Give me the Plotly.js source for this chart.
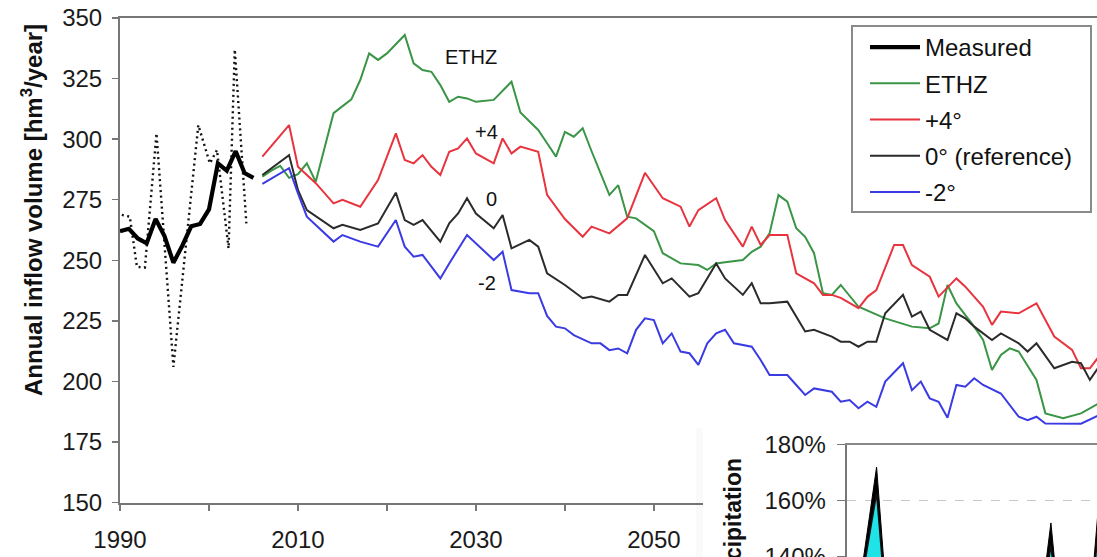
<!DOCTYPE html>
<html>
<head>
<meta charset="utf-8">
<script src="https://cdn.plot.ly/plotly-3.0.1.min.js"></script>
<style>
  html, body { margin: 0; padding: 0; background: #fff; overflow: hidden; }
  #chart { width: 1097px; height: 557px; }
</style>
</head>
<body>
<div id="chart"></div>
<script>
// ---- Measured inflow volume [hm3/year] ----
// single years (dotted line)
const measuredAnnualYears = [1990.2, 1991.1, 1991.9, 1992.8, 1994.1, 1996.0, 1998.8, 2000.1, 2000.9, 2002.2, 2002.9, 2004.2];
const measuredAnnual      = [268.7, 268, 247.3, 247, 302.4, 206, 305.8, 290, 295.5, 254.9, 337, 265.2];
// smoothed series (bold line)
const measuredYears = [1990, 1991, 1992, 1993, 1994, 1995, 1996, 1997, 1998, 1999, 2000, 2001, 2002, 2003, 2004, 2005];
const measured      = [262, 263, 259, 257, 267, 260, 249, 256, 264, 265, 271, 290, 287, 295, 286, 284];

// ---- Scenario projections ----
const ethzYears = [2006, 2007, 2008, 2009, 2010, 2011, 2012, 2014, 2016, 2017, 2018, 2019, 2020, 2022, 2023, 2024, 2025, 2026, 2027, 2028, 2029, 2030, 2032, 2033, 2034, 2035, 2037, 2038, 2039, 2040, 2041, 2042, 2043, 2045, 2046, 2047, 2048, 2050, 2051, 2053, 2055, 2056, 2057, 2058, 2060, 2061, 2062, 2063, 2064, 2065, 2066, 2067, 2068, 2069, 2070, 2071, 2073, 2076, 2078, 2079, 2081, 2082, 2083, 2084, 2086, 2087, 2088, 2089, 2090, 2091, 2093, 2094, 2096, 2098, 2100];
const ethz      = [284.5, 287, 289, 284, 285.5, 290, 282.4, 310.7, 316.4, 324.4, 335.4, 332.7, 335.4, 343, 331.3, 328.5, 327.8, 322.3, 315.4, 317.5, 316.8, 315.4, 316.2, 320, 323.7, 311, 303.8, 298.3, 292.8, 303, 301, 304.5, 295, 277, 281, 268, 267.3, 262, 252.9, 248.7, 248, 246, 248.7, 249.2, 250.1, 253.5, 255.6, 261.1, 276.9, 274.2, 263.2, 259.7, 252.9, 236.4, 235.7, 239.8, 230.8, 226, 223.9, 222.6, 221.9, 223.9, 239.8, 232.2, 222.6, 217.1, 204.7, 210.9, 213.6, 212.3, 200.6, 186.8, 184.8, 186.8, 190.9];

const plus4Years = [2006, 2009, 2010, 2012, 2014, 2015, 2017, 2019, 2021, 2022, 2023, 2024, 2025, 2026, 2027, 2028, 2029, 2030, 2032, 2033, 2034, 2035, 2037, 2038, 2040, 2042, 2043, 2045, 2047, 2049, 2051, 2053, 2054, 2055, 2057, 2058, 2060, 2061, 2062, 2063, 2065, 2066, 2068, 2069, 2070, 2071, 2073, 2074, 2075, 2077, 2078, 2079, 2081, 2082, 2084, 2085, 2087, 2088, 2089, 2091, 2093, 2095, 2097, 2098, 2099, 2100];
const plus4      = [292.8, 305.8, 288.6, 281.8, 273.5, 274.9, 272.1, 283.1, 302.4, 291.4, 290, 293.4, 288.6, 285.2, 294.8, 296.2, 300.3, 294.1, 290, 300.3, 294.1, 296.9, 294.8, 277, 267, 259.7, 263.9, 261.1, 267.3, 286.1, 275.6, 272.1, 263.9, 270.7, 275.6, 266.6, 255.6, 263.9, 256.3, 260.4, 260.4, 244.6, 240.5, 235.7, 235.7, 234.5, 230.2, 234.9, 237.7, 256.3, 256.3, 248, 243.2, 235, 242.5, 239.1, 230.8, 223.3, 228.8, 228.1, 232.2, 218.5, 213, 205.4, 205.4, 210.2];

const refYears = [2006, 2009, 2010, 2011, 2014, 2015, 2017, 2019, 2021, 2022, 2023, 2024, 2026, 2027, 2028, 2029, 2030, 2032, 2033, 2034, 2036, 2037, 2038, 2040, 2042, 2043, 2045, 2046, 2047, 2049, 2051, 2052, 2054, 2055, 2057, 2058, 2060, 2061, 2062, 2063, 2065, 2067, 2068, 2070, 2071, 2072, 2073, 2074, 2075, 2076, 2078, 2079, 2080, 2081, 2083, 2084, 2085, 2086, 2088, 2089, 2091, 2092, 2093, 2095, 2097, 2098, 2099, 2100];
const ref      = [285.2, 293.4, 279, 270.7, 263.2, 264.6, 262.5, 265.2, 277.9, 266.6, 264.6, 266.6, 257.7, 265.2, 269.3, 275.6, 269.3, 263.2, 268.7, 254.9, 258.4, 255.6, 244.6, 239.8, 234.3, 235, 232.9, 235.7, 235.7, 252.2, 240.5, 242.5, 235, 236.4, 248.7, 242.5, 235.7, 240.5, 232.2, 232.2, 232.9, 220.6, 221.3, 218.5, 216.4, 216.4, 214.3, 216.4, 216.4, 228.1, 235.7, 226.7, 228.8, 221.3, 217.1, 228.1, 226, 222.6, 217.1, 219.8, 215.7, 212.3, 215.7, 205.4, 208.1, 207.5, 200.6, 206];

const minus2Years = [2006, 2009, 2010, 2011, 2014, 2015, 2017, 2019, 2021, 2022, 2023, 2024, 2026, 2027, 2029, 2030, 2032, 2033, 2034, 2036, 2037, 2038, 2039, 2040, 2041, 2043, 2044, 2045, 2046, 2047, 2048, 2049, 2050, 2051, 2052, 2053, 2054, 2055, 2056, 2057, 2058, 2059, 2061, 2062, 2063, 2064, 2065, 2066, 2067, 2068, 2069, 2070, 2071, 2072, 2073, 2074, 2075, 2076, 2078, 2079, 2080, 2081, 2082, 2083, 2084, 2085, 2086, 2087, 2089, 2091, 2092, 2093, 2094, 2096, 2098, 2100];
const minus2      = [281.5, 288, 277.6, 268, 257.7, 260.4, 257.7, 255.6, 266.6, 255.6, 251.5, 252.2, 242.5, 248.7, 260.4, 257, 250.1, 253.5, 237.7, 236.4, 236.4, 227, 222.6, 221.9, 219.1, 215.7, 215.7, 212.9, 213.6, 211.6, 221.3, 226, 225.3, 215.7, 219.8, 212.3, 211.6, 206.8, 215.7, 219.8, 221.3, 215.7, 214.3, 208.8, 202.6, 202.6, 202.6, 198.5, 194.4, 197.1, 196.4, 195.7, 191.6, 192.3, 188.9, 191.6, 189.5, 199.9, 207.5, 196.4, 199.9, 193, 191.6, 185, 198.5, 197.8, 201.3, 198.5, 195, 185.4, 184, 185.4, 182.6, 182.6, 182.5, 186];

// ---- Inset: precipitation relative to the reference period [%] ----
const precipYears = [1990, 1991, 1992, 1993, 1994, 1995, 1996, 1997, 1998, 1999, 2000, 2001, 2002];
const precipPeak  = [100, 110, 172, 55, 90, 95, 85, 100, 81, 152, 60, 168, 90];
const precipMean  = [100, 110, 162.6, 55, 90, 95, 85, 100, 81, 144, 60, 160, 90];
const precipTicks = [140, 160, 180];
const precipTickText = ['140%', '160%', '180%'];

// Curve labels placed next to the projections
const curveLabels = [
  {text: 'ETHZ', year: 2029.4, value: 334},
  {text: '+4',   year: 2031.2, value: 303},
  {text: '0',    year: 2031.8, value: 275.2},
  {text: '-2',   year: 2031.3, value: 240.7}
];

const FONT = 'Liberation Sans, Arial, Helvetica, sans-serif';
const W = 1097, H = 557;
const ML = 120, MT = 18, PW = W - ML, PH = H - MT;
// pixel helpers for paper-referenced placement
const px = v => (v - ML) / PW;
const py = v => 1 - (v - MT) / PH;

const GREEN = '#3a9546', RED = '#e8343e', DARK = '#2b2b2b', BLUE = '#3b3be4', CYAN = '#1fe3e6';

const traces = [
  {x: measuredAnnualYears, y: measuredAnnual, type: 'scatter', mode: 'lines',
   line: {color: '#111', width: 2.4, dash: '2px,3.5px'}, showlegend: false, hoverinfo: 'skip'},
  {x: measuredYears, y: measured, type: 'scatter', mode: 'lines', name: 'Measured', legendgroup: 'a',
   line: {color: '#000', width: 4.2}},
  {x: ethzYears, y: ethz, type: 'scatter', mode: 'lines', name: 'ETHZ', legendgroup: 'b',
   line: {color: GREEN, width: 2}},
  {x: plus4Years, y: plus4, type: 'scatter', mode: 'lines', name: '+4°', legendgroup: 'c',
   line: {color: RED, width: 2}},
  {x: refYears, y: ref, type: 'scatter', mode: 'lines', name: '0° (reference)', legendgroup: 'd',
   line: {color: DARK, width: 2}},
  {x: minus2Years, y: minus2, type: 'scatter', mode: 'lines', name: '-2°', legendgroup: 'e',
   line: {color: BLUE, width: 2}},
  // white panel behind the inset
  {x: [], y: [], xaxis: 'x2', yaxis: 'y2', type: 'scatter', mode: 'lines', showlegend: false, hoverinfo: 'skip'},
  // inset areas
  {x: precipYears, y: precipPeak, xaxis: 'x3', yaxis: 'y3', type: 'scatter', mode: 'lines',
   fill: 'tozeroy', fillcolor: '#000', line: {color: '#000', width: 1}, showlegend: false, hoverinfo: 'skip'},
  {x: precipYears, y: precipMean, xaxis: 'x3', yaxis: 'y3', type: 'scatter', mode: 'lines',
   fill: 'tozeroy', fillcolor: CYAN, line: {color: '#111', width: 1.5}, showlegend: false, hoverinfo: 'skip'}
];

const annotations = curveLabels.map(l => ({
  text: l.text, x: l.year, y: l.value, xref: 'x', yref: 'y', showarrow: false,
  font: {family: FONT, size: 20, color: '#111'}
}));
annotations.push({
  text: '<b>Annual inflow volume [hm<sup>3</sup>/year]</b>', textangle: -90,
  xref: 'paper', yref: 'paper', x: px(32), y: py(210), xanchor: 'center', yanchor: 'middle',
  showarrow: false, font: {family: FONT, size: 24, color: '#111'}
});
annotations.push({
  text: '<b>Precipitation</b>', textangle: -90,
  xref: 'paper', yref: 'paper', x: px(733), y: py(456.7), xanchor: 'center', yanchor: 'top',
  showarrow: false, font: {family: FONT, size: 23, color: '#111'}
});

const shapes = [
  // legend frame
  {type: 'rect', xref: 'paper', yref: 'paper', x0: px(852), x1: px(1091), y0: py(26), y1: py(212),
   fillcolor: '#fff', line: {color: '#8a8a8a', width: 2}, layer: 'above'},
  // faint shadow along the left edge of the inset panel
  {type: 'rect', xref: 'paper', yref: 'paper', x0: px(696), x1: px(703), y0: 0, y1: py(428),
   fillcolor: 'rgba(0,0,0,0.018)', line: {width: 0}, layer: 'above'}
];

const layout = {
  width: W, height: H,
  margin: {l: ML, r: 0, t: MT, b: 0, pad: 0},
  paper_bgcolor: '#fff', plot_bgcolor: '#fff',
  font: {family: FONT, size: 24, color: '#1a1a1a'},
  hovermode: false,
  showlegend: true,
  legend: {
    x: px(865), xanchor: 'left', y: py(25), yanchor: 'top',
    bgcolor: 'rgba(0,0,0,0)', borderwidth: 0,
    font: {family: FONT, size: 24, color: '#111'},
    tracegroupgap: 2, itemwidth: 50
  },
  xaxis: {
    domain: [0, 1], anchor: 'y', range: [1990, 2099.8],
    tick0: 1990, dtick: 20, ticks: 'outside', ticklen: 6, tickwidth: 1.5, tickcolor: '#777',
    minor: {dtick: 10, ticks: 'outside', ticklen: 6, tickwidth: 1.5, tickcolor: '#777'},
    showline: true, linecolor: '#777', linewidth: 2, mirror: true,
    showgrid: false, zeroline: false, ticklabelstandoff: 9,
    tickfont: {family: FONT, size: 24, color: '#1a1a1a'}
  },
  yaxis: {
    domain: [(H - 502.5) / PH, 1], anchor: 'x', range: [150, 350],
    tick0: 150, dtick: 25, ticks: 'outside', ticklen: 6, tickwidth: 1.5, tickcolor: '#777',
    showline: true, linecolor: '#777', linewidth: 2,
    showgrid: false, zeroline: false, ticklabelstandoff: 5,
    tickfont: {family: FONT, size: 24, color: '#1a1a1a'}
  },
  xaxis2: {domain: [px(703), 1], anchor: 'y2', range: [0, 1], visible: false},
  yaxis2: {domain: [0, (H - 425) / PH], anchor: 'x2', range: [0, 1], visible: false},
  xaxis3: {
    domain: [px(846.7), 1], anchor: 'y3', range: [1990.8, 2000.85], side: 'top',
    showline: true, linecolor: '#888', linewidth: 1.5, ticks: '', showticklabels: false,
    showgrid: false, zeroline: false
  },
  yaxis3: {
    domain: [0, (H - 444.7) / PH], anchor: 'x3', range: [139.8, 180],
    tickvals: precipTicks, ticktext: precipTickText, ticks: 'outside', ticklen: 8, tickwidth: 1.5, tickcolor: '#777',
    showline: true, linecolor: '#777', linewidth: 2,
    showgrid: true, gridcolor: '#c8c8c8', griddash: 'dash', gridwidth: 1.5, zeroline: false,
    ticklabelstandoff: 6, ticklabeloverflow: 'allow', tickfont: {family: FONT, size: 24, color: '#1a1a1a'}
  },
  shapes: shapes,
  annotations: annotations
};

Plotly.newPlot('chart', traces, layout, {displayModeBar: false, staticPlot: true});
</script>
</body>
</html>
